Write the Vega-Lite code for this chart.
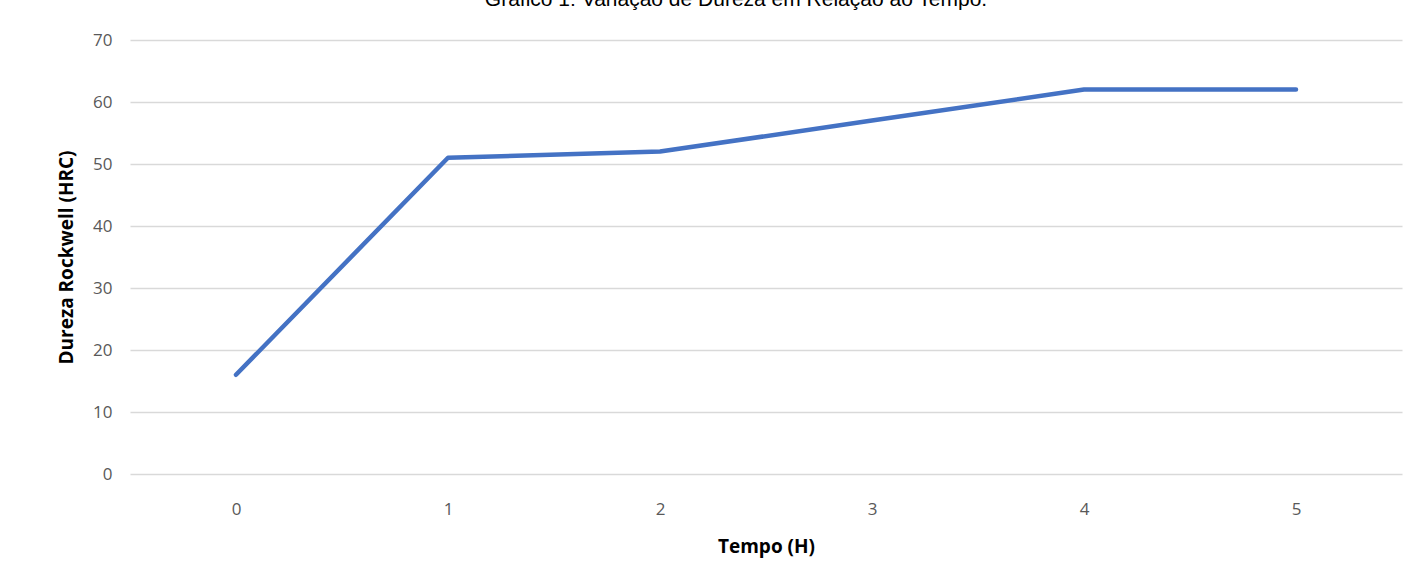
{
  "$schema": "https://vega.github.io/schema/vega-lite/v6.json",
  "autosize": {"type": "none"},
  "width": 1272,
  "height": 434,
  "padding": {"left": 130, "top": 40, "right": 22, "bottom": 113},
  "background": "white",
  "title": {
    "text": "Gráfico 1: Variação de Dureza em Relação ao Tempo.",
    "font": "Liberation Sans",
    "fontSize": 21,
    "fontWeight": "normal",
    "color": "#000000",
    "anchor": "middle",
    "offset": 21,
    "dx": -30
  },
  "data": {
    "values": [
      {"tempo": "0", "dureza": 16},
      {"tempo": "1", "dureza": 51},
      {"tempo": "2", "dureza": 52},
      {"tempo": "3", "dureza": 57},
      {"tempo": "4", "dureza": 62},
      {"tempo": "5", "dureza": 62}
    ]
  },
  "mark": {"type": "line", "color": "#4472C4", "strokeWidth": 4.5, "strokeCap": "round", "strokeJoin": "round"},
  "encoding": {
    "x": {
      "field": "tempo",
      "type": "ordinal",
      "scale": {"type": "point", "padding": 0.5},
      "axis": {
        "title": "Tempo (H)",
        "labelAngle": 0,
        "ticks": false,
        "domain": false,
        "labelPadding": 27,
        "titlePadding": 20,
        "labelFont": "Open Sans",
        "labelFontSize": 17,
        "labelColor": "#595959",
        "titleFont": "Open Sans",
        "titleFontSize": 19,
        "titleFontWeight": "bold",
        "titleColor": "#000000"
      }
    },
    "y": {
      "field": "dureza",
      "type": "quantitative",
      "scale": {"domain": [0, 70]},
      "axis": {
        "title": "Dureza Rockwell (HRC)",
        "values": [0, 10, 20, 30, 40, 50, 60, 70],
        "ticks": false,
        "domain": false,
        "labelPadding": 18,
        "titlePadding": 16,
        "labelFont": "Open Sans",
        "labelFontSize": 17,
        "labelColor": "#595959",
        "gridColor": "#d9d9d9",
        "gridWidth": 1.3,
        "titleFont": "Open Sans",
        "titleFontSize": 19,
        "titleFontWeight": "bold",
        "titleColor": "#000000"
      }
    }
  },
  "config": {"view": {"stroke": null}}
}
